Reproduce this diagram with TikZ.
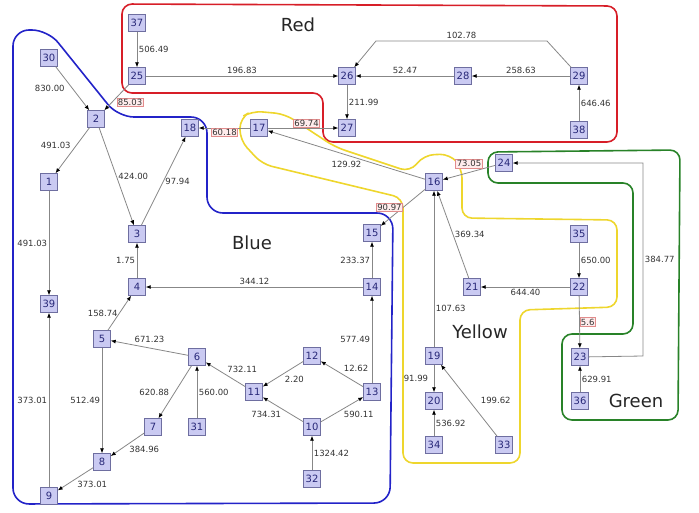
\documentclass[tikz,border=0pt]{standalone}
\usepackage{fontspec}
\setmainfont{DejaVu Sans}
\usetikzlibrary{arrows.meta}
\definecolor{nodefill}{RGB}{202,202,242}
\definecolor{nodeline}{RGB}{110,110,160}
\definecolor{nodetext}{RGB}{40,40,120}
\definecolor{edgegray}{RGB}{135,135,135}
\definecolor{boxred}{RGB}{225,140,140}
\definecolor{boxfill}{RGB}{255,236,236}
\definecolor{regred}{RGB}{215,30,40}
\definecolor{regblue}{RGB}{35,35,200}
\definecolor{regyellow}{RGB}{238,214,45}
\definecolor{reggreen}{RGB}{40,130,40}

\tikzset{
  city/.style={draw=nodeline, fill=nodefill, text=nodetext, minimum size=17pt, inner sep=0pt, font=\fontsize{10}{10}\selectfont},
  road/.style={draw=edgegray, line width=0.8pt, -{Latex[length=5pt,width=4pt,color=black]}},
  dist/.style={font=\fontsize{8.5}{9}\selectfont, text=black!80, inner sep=1.5pt},
  cross/.style={dist, draw=boxred, fill=boxfill, inner sep=1pt},
  region/.style={line width=1.6pt, rounded corners=10pt},
  regname/.style={font=\fontsize{18}{18}\selectfont, text=black!85}
}

\begin{document}
\begin{tikzpicture}[x=1pt,y=-1pt]
    \useasboundingbox (0,0) rectangle (699,512);

    % regions
    \draw[region, regred] (122,4) -- (617,6) -- (617,142) -- (323,142) -- (323,93) -- (122,93) -- cycle;
    \draw[region, regblue, rounded corners=16pt] (13,504) -- (13,30) -- (48,30) -- (118,117) -- (207,117) -- (207,213) -- (393,213) -- (390,503) -- cycle;
    \draw[region, regyellow] (252,111) -- (285,114) -- (335,147) -- (410,172) -- (424,155) -- (450,154) -- (462,168) -- (462,218) -- (617,220) -- (617,307) -- (520,310) -- (520,463) -- (403,463) -- (403,198) -- (262,164) -- (240,140) -- (240,118) -- cycle;
    \draw[region, reggreen] (488,152) -- (680,150) -- (678,420) -- (562,420) -- (562,334) -- (633,334) -- (633,183) -- (488,183) -- cycle;

    % stations
    \node[city] (c37) at (137,23) {37};
    \node[city] (c25) at (137,76) {25};
    \node[city] (c26) at (347,76) {26};
    \node[city] (c28) at (463,76) {28};
    \node[city] (c29) at (579,76) {29};
    \node[city] (c38) at (579,130) {38};
    \node[city] (c27) at (347,128) {27};
    \node[city] (c30) at (49,58) {30};
    \node[city] (c2) at (96,119) {2};
    \node[city] (c18) at (190,128) {18};
    \node[city] (c17) at (259,128) {17};
    \node[city] (c1) at (49,182) {1};
    \node[city] (c3) at (137,234) {3};
    \node[city] (c4) at (137,287) {4};
    \node[city] (c39) at (49,304) {39};
    \node[city] (c5) at (102,339) {5};
    \node[city] (c6) at (197,357) {6};
    \node[city] (c7) at (153,427) {7};
    \node[city] (c31) at (197,427) {31};
    \node[city] (c8) at (102,462) {8};
    \node[city] (c9) at (49,496) {9};
    \node[city] (c12) at (312,356) {12};
    \node[city] (c11) at (254,392) {11};
    \node[city] (c13) at (372,392) {13};
    \node[city] (c10) at (312,427) {10};
    \node[city] (c32) at (312,479) {32};
    \node[city] (c14) at (372,287) {14};
    \node[city] (c15) at (372,233) {15};
    \node[city] (c16) at (434,182) {16};
    \node[city] (c24) at (504,163) {24};
    \node[city] (c21) at (472,287) {21};
    \node[city] (c22) at (579,287) {22};
    \node[city] (c35) at (579,234) {35};
    \node[city] (c23) at (580,357) {23};
    \node[city] (c36) at (580,401) {36};
    \node[city] (c19) at (434,356) {19};
    \node[city] (c20) at (434,401) {20};
    \node[city] (c34) at (434,445) {34};
    \node[city] (c33) at (504,445) {33};

    \coordinate (b29) at (547,41);
    \coordinate (b26) at (376,41);
    \coordinate (b23) at (643,356);
    \coordinate (b24) at (643,163);

    % roads
    \draw[road] (c37) -- node[dist,right]{506.49} (c25);
    \draw[road] (c25) -- node[dist,above]{196.83} (c26);
    \draw[road] (c28) -- node[dist,above]{52.47} (c26);
    \draw[road] (c29) -- node[dist,above]{258.63} (c28);
    \draw[road] (c29) -- (b29) -- node[dist,above]{102.78} (b26) -- (c26);
    \draw[road] (c38) -- node[dist,right]{646.46} (c29);
    \draw[road] (c26) -- node[dist,right]{211.99} (c27);
    \draw[road] (c30) -- node[dist,left=6pt]{830.00} (c2);
    \draw[road] (c25) -- node[cross,below right]{85.03} (c2);
    \draw[road] (c2) -- node[dist,above left]{491.03} (c1);
    \draw[road] (c2) -- node[dist,right]{424.00} (c3);
    \draw[road] (c3) -- node[dist,right]{97.94} (c18);
    \draw[road] (c17) -- node[cross,below]{60.18} (c18);
    \draw[road] (c17) -- node[cross,above,pos=0.55]{69.74} (c27);
    \draw[road] (c16) -- node[dist,below=4pt]{129.92} (c17);
    \draw[road] (c24) -- node[cross,above=4pt]{73.05} (c16);
    \draw[road] (c16) -- node[cross,left]{90.97} (c15);
    \draw[road] (c1) -- node[dist,left]{491.03} (c39);
    \draw[road] (c4) -- node[dist,left]{1.75} (c3);
    \draw[road] (c14) -- node[dist,above]{344.12} (c4);
    \draw[road] (c14) -- node[dist,left]{233.37} (c15);
    \draw[road] (c5) -- node[dist,left]{158.74} (c4);
    \draw[road] (c6) -- node[dist,above=3pt]{671.23} (c5);
    \draw[road] (c5) -- node[dist,left]{512.49} (c8);
    \draw[road] (c6) -- node[dist,left=4pt]{620.88} (c7);
    \draw[road] (c31) -- node[dist,right]{560.00} (c6);
    \draw[road] (c7) -- node[dist,below right]{384.96} (c8);
    \draw[road] (c8) -- node[dist,below right]{373.01} (c9);
    \draw[road] (c9) -- node[dist,left]{373.01} (c39);
    \draw[road] (c11) -- node[dist,above right]{732.11} (c6);
    \draw[road] (c12) -- node[dist,below right]{2.20} (c11);
    \draw[road] (c10) -- node[dist,below left]{734.31} (c11);
    \draw[road] (c10) -- node[dist,below right]{590.11} (c13);
    \draw[road] (c13) -- node[dist,above right]{12.62} (c12);
    \draw[road] (c32) -- node[dist,right]{1324.42} (c10);
    \draw[road] (c13) -- node[dist,left]{577.49} (c14);
    \draw[road] (c21) -- node[dist,right]{369.34} (c16);
    \draw[road] (c19) -- node[dist,right,pos=0.25]{107.63} (c16);
    \draw[road] (c22) -- node[dist,below]{644.40} (c21);
    \draw[road] (c35) -- node[dist,right]{650.00} (c22);
    \draw[road] (c22) -- node[cross,right]{5.6} (c23);
    \draw[road] (c23) -- (b23) -- node[dist,right]{384.77} (b24) -- (c24);
    \draw[road] (c36) -- node[dist,right]{629.91} (c23);
    \draw[road] (c19) -- node[dist,left=4pt]{91.99} (c20);
    \draw[road] (c34) -- node[dist,right]{536.92} (c20);
    \draw[road] (c33) -- node[dist,right=10pt]{199.62} (c19);

    % region names
    \node[regname] (nred) at (298,25) {Red};
    \node[regname] (nblue) at (252,243) {Blue};
    \node[regname] (nyellow) at (480,332) {Yellow};
    \node[regname] (ngreen) at (636,401) {Green};
\end{tikzpicture}
\end{document}
